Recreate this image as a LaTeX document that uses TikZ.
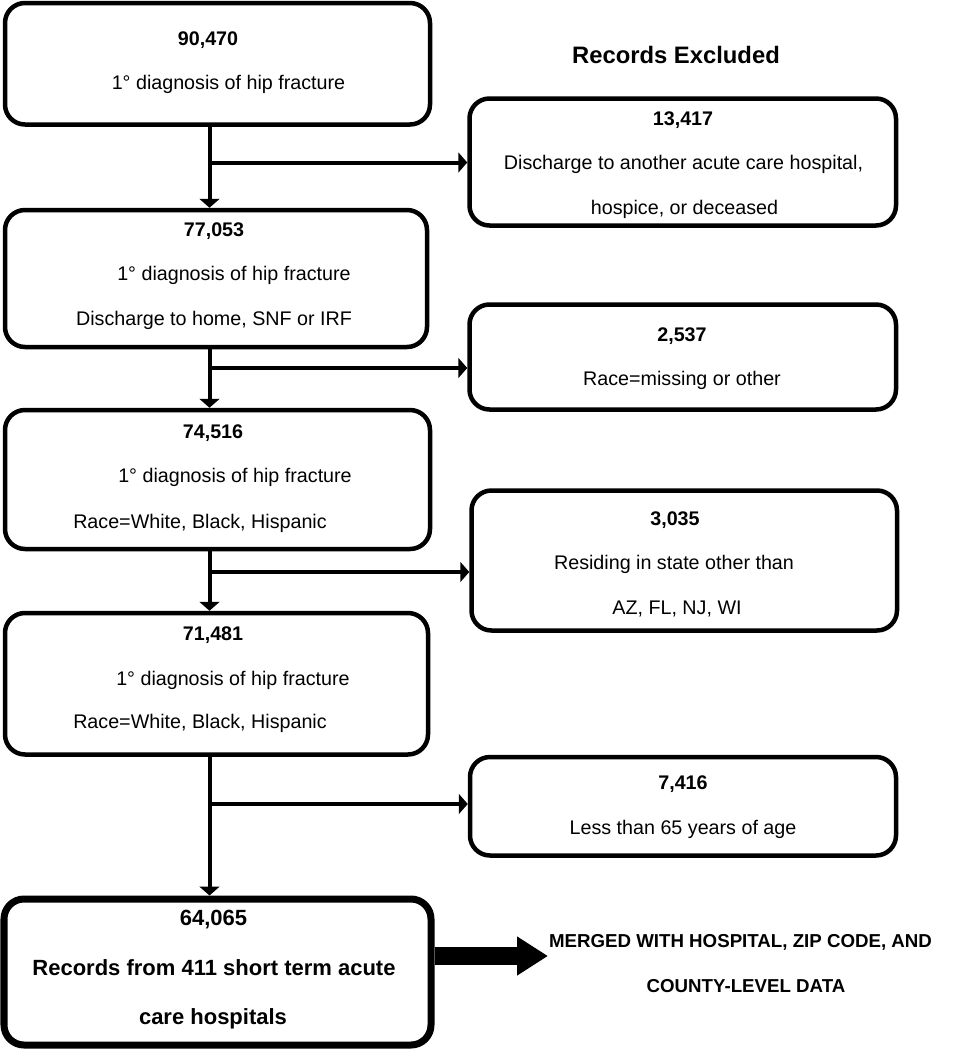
\documentclass[tikz,border=0pt]{standalone}
\usepackage{fontspec}
\setmainfont{Liberation Sans}
\usetikzlibrary{arrows.meta}
\begin{document}
\begin{tikzpicture}[x=1pt,y=-1pt,
  box/.style={draw, line width=4.5pt, rounded corners=20pt, inner sep=0pt},
  finalbox/.style={box, line width=7pt},
  txt/.style={inner sep=0pt, yshift=-4.5pt, text height=0.72em, text depth=0.21em, font=\fontsize{19.7}{24}\selectfont},
  num/.style={txt, font=\fontsize{19.7}{24}\selectfont\bfseries},
  big/.style={inner sep=0pt, yshift=-4.5pt, text height=0.72em, text depth=0.21em, font=\fontsize{22}{26}\selectfont\bfseries},
  merged/.style={inner sep=0pt, yshift=-4pt, text height=0.72em, text depth=0.21em, font=\fontsize{18.7}{22}\selectfont\bfseries},
  conn/.style={line width=4pt, -{Triangle[width=20pt,length=9pt]}}]
\fill[white] (0,0) rectangle (955,1050);
\useasboundingbox (0,0) rectangle (955,1050);

% main column boxes
\node[box, minimum width=425pt, minimum height=121.5pt] (b1) at (217.5,63.75) {};
\node[box, minimum width=422pt, minimum height=137pt] (b2) at (216,278.5) {};
\node[box, minimum width=425pt, minimum height=139pt] (b3) at (217.5,479.5) {};
\node[box, minimum width=423pt, minimum height=141.5pt] (b4) at (216.5,683.75) {};
\node[finalbox, minimum width=427pt, minimum height=146pt] (b5) at (217.5,972) {};

% excluded boxes
\node[box, minimum width=426.5pt, minimum height=127pt] (e1) at (682.75,162) {};
\node[box, minimum width=426.5pt, minimum height=105pt] (e2) at (682.75,357) {};
\node[box, minimum width=425.5pt, minimum height=140pt] (e3) at (684.25,560.5) {};
\node[box, minimum width=426pt, minimum height=98.5pt] (e4) at (683,806.25) {};

% texts
\node[num] (t1a) at (208,38) {90,470};
\node[txt] (t1b) at (228.5,82) {1° diagnosis of hip fracture};

\node[num] (t2a) at (214,229) {77,053};
\node[txt] (t2b) at (234,273) {1° diagnosis of hip fracture};
\node[txt] (t2c) at (214,318) {Discharge to home, SNF or IRF};

\node[num] (t3a) at (213,431) {74,516};
\node[txt] (t3b) at (235,475) {1° diagnosis of hip fracture};
\node[txt] (t3c) at (200,521) {Race=White, Black, Hispanic};

\node[num] (t4a) at (213,633) {71,481};
\node[txt] (t4b) at (233,678) {1° diagnosis of hip fracture};
\node[txt] (t4c) at (200,721) {Race=White, Black, Hispanic};

\node[big] (t5a) at (213.5,918) {64,065};
\node[big] (t5b) at (214,968) {Records from 411 short term acute};
\node[big] (t5c) at (213,1017) {care hospitals};

\node[inner sep=0pt, font=\fontsize{23.8}{28}\selectfont\bfseries] (hdr) at (676,55) {Records Excluded};

\node[num] (x1a) at (683,118) {13,417};
\node[txt] (x1b) at (683.5,162) {Discharge to another acute care hospital,};
\node[txt] (x1c) at (684.5,207) {hospice, or deceased};

\node[num] (x2a) at (682,334) {2,537};
\node[txt] (x2b) at (682,378) {Race=missing or other};

\node[num] (x3a) at (675,518) {3,035};
\node[txt] (x3b) at (674,562) {Residing in state other than};
\node[txt] (x3c) at (677,607) {AZ, FL, NJ, WI};

\node[num] (x4a) at (683,782) {7,416};
\node[txt] (x4b) at (683,827) {Less than 65 years of age};

\node[merged] (m1) at (740.5,941) {MERGED WITH HOSPITAL, ZIP CODE, AND};
\node[merged] (m2) at (746,986) {COUNTY-LEVEL DATA};

% connectors
\coordinate (v) at (209.5,0);
\draw[conn] (v |- b1.south) -- (v |- b2.north);
\draw[conn] (v |- b2.south) -- (v |- b3.north);
\draw[conn] (v |- b3.south) -- (v |- b4.north);
\draw[conn] (v |- b4.south) -- (v |- b5.north);

\coordinate (j1) at (209.5,162.5);
\coordinate (j2) at (209.5,368);
\coordinate (j3) at (209.5,572);
\coordinate (j4) at (209.5,804);
\draw[conn] (j1) -- (j1 -| e1.west);
\draw[conn] (j2) -- (j2 -| e2.west);
\draw[conn] (j3) -- (j3 -| e3.west);
\draw[conn] (j4) -- (j4 -| e4.west);

% big arrow
\coordinate (ah) at (0,956);
\coordinate (tip) at (548,956);
\draw[line width=18pt, -{Triangle[width=37pt,length=31pt]}] (ah -| b5.east) -- (tip);
\end{tikzpicture}
\end{document}
